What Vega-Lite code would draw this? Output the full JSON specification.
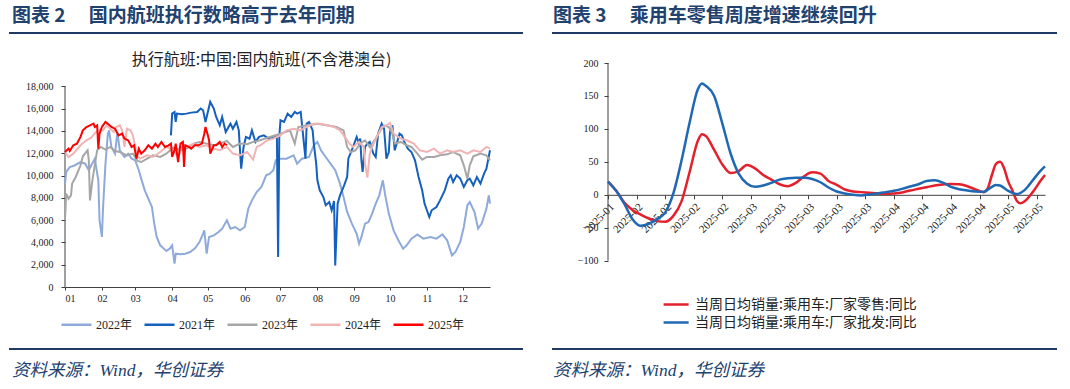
{
"$schema": "https://vega.github.io/schema/vega-lite/v6.json",
"padding": {"left": 9, "top": 0, "right": 0, "bottom": 0},
"background": "white",
"config": {"view": {"stroke": null}, "font": "Liberation Serif, Noto Sans CJK SC"},
"resolve": {"scale": {"color": "independent", "x": "independent", "y": "independent"}, "legend": {"color": "independent"}, "axis": {"x": "independent", "y": "independent"}},
"datasets": {
"flights": [
{"year":"2022年","day":0,"flights":9270},{"year":"2022年","day":1,"flights":10300},{"year":"2022年","day":4,"flights":10760},{"year":"2022年","day":8,"flights":10900},{"year":"2022年","day":13,"flights":11200},{"year":"2022年","day":17,"flights":11060},{"year":"2022年","day":20,"flights":10470},{"year":"2022年","day":22,"flights":10900},{"year":"2022年","day":25,"flights":11500},{"year":"2022年","day":28,"flights":9570},{"year":"2022年","day":29,"flights":5980},{"year":"2022年","day":31,"flights":4490},{"year":"2022年","day":32,"flights":7180},{"year":"2022年","day":34,"flights":11060},{"year":"2022年","day":36,"flights":13750},{"year":"2022年","day":37,"flights":14050},{"year":"2022年","day":39,"flights":12560},{"year":"2022年","day":42,"flights":11960},{"year":"2022年","day":44,"flights":13900},{"year":"2022年","day":46,"flights":12260},{"year":"2022年","day":50,"flights":11660},{"year":"2022年","day":53,"flights":11960},{"year":"2022年","day":56,"flights":11510},{"year":"2022年","day":59,"flights":11360},{"year":"2022年","day":62,"flights":10470},{"year":"2022年","day":64,"flights":9720},{"year":"2022年","day":67,"flights":8670},{"year":"2022年","day":70,"flights":7920},{"year":"2022年","day":73,"flights":7180},{"year":"2022年","day":75,"flights":5680},{"year":"2022年","day":77,"flights":4490},{"year":"2022年","day":80,"flights":3740},{"year":"2022年","day":83,"flights":3440},{"year":"2022年","day":85,"flights":3230},{"year":"2022年","day":88,"flights":3440},{"year":"2022年","day":90,"flights":3740},{"year":"2022年","day":92,"flights":2090},{"year":"2022年","day":93,"flights":2990},{"year":"2022年","day":97,"flights":2930},{"year":"2022年","day":101,"flights":2990},{"year":"2022年","day":105,"flights":3140},{"year":"2022年","day":109,"flights":3440},{"year":"2022年","day":113,"flights":4040},{"year":"2022年","day":116,"flights":4780},{"year":"2022年","day":117,"flights":5080},{"year":"2022年","day":119,"flights":2990},{"year":"2022年","day":121,"flights":4490},{"year":"2022年","day":125,"flights":4630},{"year":"2022年","day":129,"flights":4930},{"year":"2022年","day":132,"flights":5230},{"year":"2022年","day":136,"flights":5980},{"year":"2022年","day":139,"flights":5230},{"year":"2022年","day":143,"flights":5380},{"year":"2022年","day":147,"flights":5080},{"year":"2022年","day":151,"flights":5380},{"year":"2022年","day":154,"flights":7030},{"year":"2022年","day":157,"flights":7770},{"year":"2022年","day":161,"flights":8520},{"year":"2022年","day":165,"flights":8970},{"year":"2022年","day":169,"flights":10020},{"year":"2022年","day":172,"flights":10170},{"year":"2022年","day":175,"flights":10470},{"year":"2022年","day":177,"flights":11360},{"year":"2022年","day":181,"flights":11510},{"year":"2022年","day":186,"flights":11510},{"year":"2022年","day":192,"flights":11810},{"year":"2022年","day":195,"flights":11060},{"year":"2022年","day":199,"flights":11510},{"year":"2022年","day":205,"flights":11660},{"year":"2022年","day":209,"flights":12710},{"year":"2022年","day":212,"flights":13010},{"year":"2022年","day":215,"flights":12260},{"year":"2022年","day":219,"flights":11660},{"year":"2022年","day":223,"flights":11060},{"year":"2022年","day":227,"flights":10470},{"year":"2022年","day":231,"flights":9270},{"year":"2022年","day":234,"flights":8070},{"year":"2022年","day":237,"flights":6730},{"year":"2022年","day":241,"flights":5680},{"year":"2022年","day":245,"flights":4780},{"year":"2022年","day":247,"flights":3890},{"year":"2022年","day":249,"flights":4490},{"year":"2022年","day":252,"flights":5680},{"year":"2022年","day":255,"flights":5830},{"year":"2022年","day":258,"flights":6580},{"year":"2022年","day":261,"flights":7480},{"year":"2022年","day":264,"flights":8220},{"year":"2022年","day":267,"flights":9570},{"year":"2022年","day":269,"flights":8220},{"year":"2022年","day":272,"flights":6580},{"year":"2022年","day":276,"flights":5080},{"year":"2022年","day":280,"flights":4190},{"year":"2022年","day":284,"flights":3440},{"year":"2022年","day":287,"flights":3740},{"year":"2022年","day":291,"flights":4340},{"year":"2022年","day":296,"flights":4720},{"year":"2022年","day":301,"flights":4340},{"year":"2022年","day":307,"flights":4490},{"year":"2022年","day":312,"flights":4340},{"year":"2022年","day":317,"flights":4720},{"year":"2022年","day":321,"flights":4190},{"year":"2022年","day":325,"flights":2840},{"year":"2022年","day":328,"flights":3140},{"year":"2022年","day":332,"flights":4040},{"year":"2022年","day":335,"flights":5380},{"year":"2022年","day":338,"flights":7330},{"year":"2022年","day":340,"flights":7620},{"year":"2022年","day":344,"flights":6730},{"year":"2022年","day":347,"flights":5230},{"year":"2022年","day":350,"flights":5680},{"year":"2022年","day":354,"flights":7030},{"year":"2022年","day":356,"flights":8220},{"year":"2022年","day":357,"flights":7480},
{"year":"2021年","day":89,"flights":13600},{"year":"2021年","day":90,"flights":15550},{"year":"2021年","day":92,"flights":15700},{"year":"2021年","day":93,"flights":14800},{"year":"2021年","day":94,"flights":15550},{"year":"2021年","day":98,"flights":15490},{"year":"2021年","day":102,"flights":15550},{"year":"2021年","day":106,"flights":15640},{"year":"2021年","day":111,"flights":15700},{"year":"2021年","day":114,"flights":16000},{"year":"2021年","day":116,"flights":15850},{"year":"2021年","day":118,"flights":14800},{"year":"2021年","day":119,"flights":15250},{"year":"2021年","day":122,"flights":16600},{"year":"2021年","day":125,"flights":16000},{"year":"2021年","day":127,"flights":15250},{"year":"2021年","day":130,"flights":14500},{"year":"2021年","day":132,"flights":15250},{"year":"2021年","day":135,"flights":13900},{"year":"2021年","day":139,"flights":14650},{"year":"2021年","day":141,"flights":14200},{"year":"2021年","day":144,"flights":14800},{"year":"2021年","day":146,"flights":14050},{"year":"2021年","day":147,"flights":12260},{"year":"2021年","day":148,"flights":10610},{"year":"2021年","day":150,"flights":12560},{"year":"2021年","day":152,"flights":13460},{"year":"2021年","day":155,"flights":13300},{"year":"2021年","day":157,"flights":14050},{"year":"2021年","day":160,"flights":13010},{"year":"2021年","day":163,"flights":13460},{"year":"2021年","day":167,"flights":13600},{"year":"2021年","day":171,"flights":13310},{"year":"2021年","day":175,"flights":13460},{"year":"2021年","day":178,"flights":13600},{"year":"2021年","day":179,"flights":2690},{"year":"2021年","day":180,"flights":13460},{"year":"2021年","day":181,"flights":14950},{"year":"2021年","day":184,"flights":14800},{"year":"2021年","day":187,"flights":15550},{"year":"2021年","day":190,"flights":15250},{"year":"2021年","day":193,"flights":15700},{"year":"2021年","day":195,"flights":15550},{"year":"2021年","day":198,"flights":15700},{"year":"2021年","day":199,"flights":14650},{"year":"2021年","day":201,"flights":12560},{"year":"2021年","day":202,"flights":11510},{"year":"2021年","day":203,"flights":14650},{"year":"2021年","day":205,"flights":14800},{"year":"2021年","day":208,"flights":14050},{"year":"2021年","day":209,"flights":12860},{"year":"2021年","day":211,"flights":11060},{"year":"2021年","day":212,"flights":9570},{"year":"2021年","day":214,"flights":8670},{"year":"2021年","day":217,"flights":8070},{"year":"2021年","day":219,"flights":7330},{"year":"2021年","day":222,"flights":7620},{"year":"2021年","day":224,"flights":6880},{"year":"2021年","day":226,"flights":7710},{"year":"2021年","day":227,"flights":1940},{"year":"2021年","day":229,"flights":7480},{"year":"2021年","day":231,"flights":8220},{"year":"2021年","day":234,"flights":8970},{"year":"2021年","day":237,"flights":9870},{"year":"2021年","day":238,"flights":11510},{"year":"2021年","day":242,"flights":12560},{"year":"2021年","day":245,"flights":13460},{"year":"2021年","day":247,"flights":12860},{"year":"2021年","day":248,"flights":13310},{"year":"2021年","day":249,"flights":11360},{"year":"2021年","day":250,"flights":10320},{"year":"2021年","day":252,"flights":12560},{"year":"2021年","day":254,"flights":12860},{"year":"2021年","day":256,"flights":13010},{"year":"2021年","day":259,"flights":11960},{"year":"2021年","day":261,"flights":11660},{"year":"2021年","day":263,"flights":13750},{"year":"2021年","day":266,"flights":14650},{"year":"2021年","day":268,"flights":14200},{"year":"2021年","day":270,"flights":11510},{"year":"2021年","day":272,"flights":12110},{"year":"2021年","day":273,"flights":13900},{"year":"2021年","day":275,"flights":14500},{"year":"2021年","day":277,"flights":12260},{"year":"2021年","day":279,"flights":13010},{"year":"2021年","day":281,"flights":13750},{"year":"2021年","day":283,"flights":13600},{"year":"2021年","day":285,"flights":13010},{"year":"2021年","day":288,"flights":12410},{"year":"2021年","day":291,"flights":12110},{"year":"2021年","day":294,"flights":11360},{"year":"2021年","day":297,"flights":9870},{"year":"2021年","day":300,"flights":8670},{"year":"2021年","day":302,"flights":7480},{"year":"2021年","day":304,"flights":6880},{"year":"2021年","day":306,"flights":6280},{"year":"2021年","day":308,"flights":6880},{"year":"2021年","day":312,"flights":7180},{"year":"2021年","day":315,"flights":7770},{"year":"2021年","day":319,"flights":8670},{"year":"2021年","day":322,"flights":9720},{"year":"2021年","day":324,"flights":10020},{"year":"2021年","day":326,"flights":9420},{"year":"2021年","day":329,"flights":10020},{"year":"2021年","day":332,"flights":9720},{"year":"2021年","day":335,"flights":8970},{"year":"2021年","day":338,"flights":9570},{"year":"2021年","day":340,"flights":9720},{"year":"2021年","day":343,"flights":9120},{"year":"2021年","day":346,"flights":9870},{"year":"2021年","day":349,"flights":9270},{"year":"2021年","day":352,"flights":10170},{"year":"2021年","day":354,"flights":10610},{"year":"2021年","day":357,"flights":12260},
{"year":"2023年","day":0,"flights":5980},{"year":"2023年","day":1,"flights":8370},{"year":"2023年","day":3,"flights":7920},{"year":"2023年","day":5,"flights":8220},{"year":"2023年","day":6,"flights":9270},{"year":"2023年","day":9,"flights":9870},{"year":"2023年","day":13,"flights":10910},{"year":"2023年","day":15,"flights":11720},{"year":"2023年","day":19,"flights":12260},{"year":"2023年","day":20,"flights":11360},{"year":"2023年","day":21,"flights":7770},{"year":"2023年","day":23,"flights":9570},{"year":"2023年","day":25,"flights":10910},{"year":"2023年","day":27,"flights":12260},{"year":"2023年","day":30,"flights":12560},{"year":"2023年","day":34,"flights":12320},{"year":"2023年","day":38,"flights":12560},{"year":"2023年","day":42,"flights":12200},{"year":"2023年","day":46,"flights":12110},{"year":"2023年","day":52,"flights":11810},{"year":"2023年","day":57,"flights":11960},{"year":"2023年","day":61,"flights":11300},{"year":"2023年","day":64,"flights":11210},{"year":"2023年","day":69,"flights":11510},{"year":"2023年","day":74,"flights":11810},{"year":"2023年","day":80,"flights":11660},{"year":"2023年","day":85,"flights":11960},{"year":"2023年","day":91,"flights":12500},{"year":"2023年","day":97,"flights":12260},{"year":"2023年","day":102,"flights":12410},{"year":"2023年","day":108,"flights":12860},{"year":"2023年","day":113,"flights":13010},{"year":"2023年","day":119,"flights":12860},{"year":"2023年","day":125,"flights":12710},{"year":"2023年","day":130,"flights":12860},{"year":"2023年","day":136,"flights":13100},{"year":"2023年","day":141,"flights":12560},{"year":"2023年","day":147,"flights":12860},{"year":"2023年","day":153,"flights":12800},{"year":"2023年","day":158,"flights":13010},{"year":"2023年","day":164,"flights":13160},{"year":"2023年","day":172,"flights":13460},{"year":"2023年","day":181,"flights":13750},{"year":"2023年","day":189,"flights":14050},{"year":"2023年","day":193,"flights":12860},{"year":"2023年","day":196,"flights":14350},{"year":"2023年","day":203,"flights":14500},{"year":"2023年","day":212,"flights":14650},{"year":"2023年","day":220,"flights":14500},{"year":"2023年","day":228,"flights":14350},{"year":"2023年","day":234,"flights":14050},{"year":"2023年","day":237,"flights":12560},{"year":"2023年","day":240,"flights":12110},{"year":"2023年","day":244,"flights":12260},{"year":"2023年","day":248,"flights":12860},{"year":"2023年","day":252,"flights":13160},{"year":"2023年","day":256,"flights":12560},{"year":"2023年","day":261,"flights":13310},{"year":"2023年","day":265,"flights":14050},{"year":"2023年","day":268,"flights":14500},{"year":"2023年","day":272,"flights":14350},{"year":"2023年","day":275,"flights":13750},{"year":"2023年","day":277,"flights":12860},{"year":"2023年","day":282,"flights":13010},{"year":"2023年","day":287,"flights":12710},{"year":"2023年","day":291,"flights":12560},{"year":"2023年","day":296,"flights":11960},{"year":"2023年","day":300,"flights":11420},{"year":"2023年","day":304,"flights":11660},{"year":"2023年","day":310,"flights":11660},{"year":"2023年","day":315,"flights":11810},{"year":"2023年","day":321,"flights":11900},{"year":"2023年","day":326,"flights":12110},{"year":"2023年","day":332,"flights":11810},{"year":"2023年","day":335,"flights":10910},{"year":"2023年","day":338,"flights":9720},{"year":"2023年","day":340,"flights":10910},{"year":"2023年","day":343,"flights":11720},{"year":"2023年","day":349,"flights":11960},{"year":"2023年","day":354,"flights":11810},{"year":"2023年","day":357,"flights":11360},
{"year":"2024年","day":0,"flights":12110},{"year":"2024年","day":3,"flights":11660},{"year":"2024年","day":7,"flights":11960},{"year":"2024年","day":13,"flights":12710},{"year":"2024年","day":18,"flights":13160},{"year":"2024年","day":22,"flights":13400},{"year":"2024年","day":26,"flights":13900},{"year":"2024年","day":29,"flights":14050},{"year":"2024年","day":32,"flights":14050},{"year":"2024年","day":35,"flights":14500},{"year":"2024年","day":38,"flights":14200},{"year":"2024年","day":41,"flights":13900},{"year":"2024年","day":43,"flights":14350},{"year":"2024年","day":46,"flights":14500},{"year":"2024年","day":48,"flights":14050},{"year":"2024年","day":50,"flights":12560},{"year":"2024年","day":52,"flights":14200},{"year":"2024年","day":55,"flights":14050},{"year":"2024年","day":57,"flights":13600},{"year":"2024年","day":59,"flights":12560},{"year":"2024年","day":60,"flights":11810},{"year":"2024年","day":63,"flights":11510},{"year":"2024年","day":69,"flights":11810},{"year":"2024年","day":74,"flights":11660},{"year":"2024年","day":80,"flights":12110},{"year":"2024年","day":85,"flights":12560},{"year":"2024年","day":91,"flights":12260},{"year":"2024年","day":95,"flights":11600},{"year":"2024年","day":98,"flights":12560},{"year":"2024年","day":102,"flights":12560},{"year":"2024年","day":108,"flights":12860},{"year":"2024年","day":113,"flights":12560},{"year":"2024年","day":119,"flights":12710},{"year":"2024年","day":125,"flights":12410},{"year":"2024年","day":130,"flights":12260},{"year":"2024年","day":136,"flights":12560},{"year":"2024年","day":141,"flights":11960},{"year":"2024年","day":147,"flights":11810},{"year":"2024年","day":153,"flights":12110},{"year":"2024年","day":158,"flights":11420},{"year":"2024年","day":161,"flights":12560},{"year":"2024年","day":164,"flights":12710},{"year":"2024年","day":170,"flights":13160},{"year":"2024年","day":175,"flights":13310},{"year":"2024年","day":181,"flights":13600},{"year":"2024年","day":186,"flights":14050},{"year":"2024年","day":192,"flights":14200},{"year":"2024年","day":198,"flights":14050},{"year":"2024年","day":203,"flights":14350},{"year":"2024年","day":209,"flights":14650},{"year":"2024年","day":214,"flights":14650},{"year":"2024年","day":220,"flights":14500},{"year":"2024年","day":226,"flights":14350},{"year":"2024年","day":231,"flights":14050},{"year":"2024年","day":235,"flights":13460},{"year":"2024年","day":239,"flights":12860},{"year":"2024年","day":242,"flights":12560},{"year":"2024年","day":247,"flights":13010},{"year":"2024年","day":251,"flights":12560},{"year":"2024年","day":252,"flights":11060},{"year":"2024年","day":254,"flights":9810},{"year":"2024年","day":256,"flights":11960},{"year":"2024年","day":258,"flights":12560},{"year":"2024年","day":262,"flights":13460},{"year":"2024年","day":266,"flights":14350},{"year":"2024年","day":270,"flights":14500},{"year":"2024年","day":273,"flights":14710},{"year":"2024年","day":276,"flights":13750},{"year":"2024年","day":282,"flights":13310},{"year":"2024年","day":287,"flights":13160},{"year":"2024年","day":293,"flights":12860},{"year":"2024年","day":298,"flights":12260},{"year":"2024年","day":304,"flights":12110},{"year":"2024年","day":310,"flights":12410},{"year":"2024年","day":315,"flights":11960},{"year":"2024年","day":321,"flights":12260},{"year":"2024年","day":326,"flights":12110},{"year":"2024年","day":332,"flights":12260},{"year":"2024年","day":338,"flights":11960},{"year":"2024年","day":343,"flights":12260},{"year":"2024年","day":349,"flights":12110},{"year":"2024年","day":354,"flights":12560},{"year":"2024年","day":357,"flights":12410},
{"year":"2025年","day":0,"flights":12110},{"year":"2025年","day":3,"flights":12410},{"year":"2025年","day":4,"flights":12200},{"year":"2025年","day":7,"flights":12710},{"year":"2025年","day":10,"flights":12860},{"year":"2025年","day":13,"flights":13460},{"year":"2025年","day":15,"flights":14050},{"year":"2025年","day":18,"flights":14350},{"year":"2025年","day":21,"flights":14500},{"year":"2025年","day":24,"flights":14650},{"year":"2025年","day":25,"flights":14350},{"year":"2025年","day":27,"flights":14500},{"year":"2025年","day":28,"flights":12410},{"year":"2025年","day":29,"flights":13750},{"year":"2025年","day":31,"flights":14350},{"year":"2025年","day":34,"flights":14800},{"year":"2025年","day":36,"flights":14650},{"year":"2025年","day":39,"flights":14350},{"year":"2025年","day":42,"flights":14200},{"year":"2025年","day":45,"flights":13600},{"year":"2025年","day":48,"flights":13750},{"year":"2025年","day":50,"flights":13310},{"year":"2025年","day":53,"flights":13160},{"year":"2025年","day":56,"flights":12560},{"year":"2025年","day":58,"flights":12710},{"year":"2025年","day":60,"flights":11510},{"year":"2025年","day":62,"flights":12410},{"year":"2025年","day":64,"flights":11960},{"year":"2025年","day":67,"flights":12260},{"year":"2025年","day":70,"flights":12710},{"year":"2025年","day":73,"flights":12410},{"year":"2025年","day":76,"flights":12860},{"year":"2025年","day":78,"flights":12560},{"year":"2025年","day":81,"flights":13010},{"year":"2025年","day":84,"flights":12560},{"year":"2025年","day":87,"flights":12710},{"year":"2025年","day":89,"flights":12860},{"year":"2025年","day":90,"flights":11660},{"year":"2025年","day":92,"flights":12260},{"year":"2025年","day":93,"flights":12860},{"year":"2025年","day":95,"flights":11210},{"year":"2025年","day":97,"flights":12860},{"year":"2025年","day":99,"flights":13010},{"year":"2025年","day":100,"flights":10760},{"year":"2025年","day":101,"flights":12710},{"year":"2025年","day":104,"flights":12560},{"year":"2025年","day":106,"flights":12410},{"year":"2025年","day":109,"flights":12710},{"year":"2025年","day":112,"flights":12710},{"year":"2025年","day":115,"flights":12860},{"year":"2025年","day":117,"flights":13750},{"year":"2025年","day":118,"flights":14350},{"year":"2025年","day":120,"flights":13600},{"year":"2025年","day":121,"flights":13160},{"year":"2025年","day":122,"flights":11960},{"year":"2025年","day":125,"flights":12710},{"year":"2025年","day":127,"flights":12710},{"year":"2025年","day":130,"flights":13010},{"year":"2025年","day":132,"flights":12560},{"year":"2025年","day":134,"flights":12860},{"year":"2025年","day":136,"flights":12710}
],
"cars": [
{"series":"当周日均销量:乘用车:厂家零售:同比","date":"2025-01-26","yoy":20},{"series":"当周日均销量:乘用车:厂家零售:同比","date":"2025-01-28","yoy":6},{"series":"当周日均销量:乘用车:厂家零售:同比","date":"2025-01-30","yoy":-12},{"series":"当周日均销量:乘用车:厂家零售:同比","date":"2025-02-01","yoy":-23},{"series":"当周日均销量:乘用车:厂家零售:同比","date":"2025-02-03","yoy":-30},{"series":"当周日均销量:乘用车:厂家零售:同比","date":"2025-02-05","yoy":-36},{"series":"当周日均销量:乘用车:厂家零售:同比","date":"2025-02-07","yoy":-40},{"series":"当周日均销量:乘用车:厂家零售:同比","date":"2025-02-09","yoy":-41},{"series":"当周日均销量:乘用车:厂家零售:同比","date":"2025-02-11","yoy":-32},{"series":"当周日均销量:乘用车:厂家零售:同比","date":"2025-02-13","yoy":-10},{"series":"当周日均销量:乘用车:厂家零售:同比","date":"2025-02-15","yoy":35},{"series":"当周日均销量:乘用车:厂家零售:同比","date":"2025-02-17","yoy":82},{"series":"当周日均销量:乘用车:厂家零售:同比","date":"2025-02-18","yoy":92},{"series":"当周日均销量:乘用车:厂家零售:同比","date":"2025-02-19","yoy":89},{"series":"当周日均销量:乘用车:厂家零售:同比","date":"2025-02-21","yoy":68},{"series":"当周日均销量:乘用车:厂家零售:同比","date":"2025-02-23","yoy":46},{"series":"当周日均销量:乘用车:厂家零售:同比","date":"2025-02-25","yoy":33},{"series":"当周日均销量:乘用车:厂家零售:同比","date":"2025-02-27","yoy":36},{"series":"当周日均销量:乘用车:厂家零售:同比","date":"2025-03-01","yoy":45},{"series":"当周日均销量:乘用车:厂家零售:同比","date":"2025-03-03","yoy":40},{"series":"当周日均销量:乘用车:厂家零售:同比","date":"2025-03-05","yoy":30},{"series":"当周日均销量:乘用车:厂家零售:同比","date":"2025-03-07","yoy":23},{"series":"当周日均销量:乘用车:厂家零售:同比","date":"2025-03-09","yoy":16},{"series":"当周日均销量:乘用车:厂家零售:同比","date":"2025-03-11","yoy":13},{"series":"当周日均销量:乘用车:厂家零售:同比","date":"2025-03-13","yoy":18},{"series":"当周日均销量:乘用车:厂家零售:同比","date":"2025-03-15","yoy":28},{"series":"当周日均销量:乘用车:厂家零售:同比","date":"2025-03-17","yoy":34},{"series":"当周日均销量:乘用车:厂家零售:同比","date":"2025-03-19","yoy":32},{"series":"当周日均销量:乘用车:厂家零售:同比","date":"2025-03-21","yoy":21},{"series":"当周日均销量:乘用车:厂家零售:同比","date":"2025-03-23","yoy":15},{"series":"当周日均销量:乘用车:厂家零售:同比","date":"2025-03-25","yoy":8},{"series":"当周日均销量:乘用车:厂家零售:同比","date":"2025-03-27","yoy":5},{"series":"当周日均销量:乘用车:厂家零售:同比","date":"2025-03-29","yoy":4},{"series":"当周日均销量:乘用车:厂家零售:同比","date":"2025-03-31","yoy":3},{"series":"当周日均销量:乘用车:厂家零售:同比","date":"2025-04-02","yoy":2},{"series":"当周日均销量:乘用车:厂家零售:同比","date":"2025-04-04","yoy":1.5},{"series":"当周日均销量:乘用车:厂家零售:同比","date":"2025-04-06","yoy":2},{"series":"当周日均销量:乘用车:厂家零售:同比","date":"2025-04-08","yoy":3.5},{"series":"当周日均销量:乘用车:厂家零售:同比","date":"2025-04-10","yoy":6.5},{"series":"当周日均销量:乘用车:厂家零售:同比","date":"2025-04-12","yoy":9},{"series":"当周日均销量:乘用车:厂家零售:同比","date":"2025-04-14","yoy":11.5},{"series":"当周日均销量:乘用车:厂家零售:同比","date":"2025-04-16","yoy":14},{"series":"当周日均销量:乘用车:厂家零售:同比","date":"2025-04-18","yoy":15.5},{"series":"当周日均销量:乘用车:厂家零售:同比","date":"2025-04-20","yoy":16.5},{"series":"当周日均销量:乘用车:厂家零售:同比","date":"2025-04-22","yoy":16},{"series":"当周日均销量:乘用车:厂家零售:同比","date":"2025-04-24","yoy":13},{"series":"当周日均销量:乘用车:厂家零售:同比","date":"2025-04-26","yoy":8},{"series":"当周日均销量:乘用车:厂家零售:同比","date":"2025-04-28","yoy":4},{"series":"当周日均销量:乘用车:厂家零售:同比","date":"2025-04-29","yoy":10},{"series":"当周日均销量:乘用车:厂家零售:同比","date":"2025-04-30","yoy":30},{"series":"当周日均销量:乘用车:厂家零售:同比","date":"2025-05-01","yoy":47},{"series":"当周日均销量:乘用车:厂家零售:同比","date":"2025-05-02","yoy":50},{"series":"当周日均销量:乘用车:厂家零售:同比","date":"2025-05-03","yoy":40},{"series":"当周日均销量:乘用车:厂家零售:同比","date":"2025-05-04","yoy":20},{"series":"当周日均销量:乘用车:厂家零售:同比","date":"2025-05-05","yoy":7},{"series":"当周日均销量:乘用车:厂家零售:同比","date":"2025-05-06","yoy":-8},{"series":"当周日均销量:乘用车:厂家零售:同比","date":"2025-05-07","yoy":-13},{"series":"当周日均销量:乘用车:厂家零售:同比","date":"2025-05-08","yoy":-10},{"series":"当周日均销量:乘用车:厂家零售:同比","date":"2025-05-10","yoy":4},{"series":"当周日均销量:乘用车:厂家零售:同比","date":"2025-05-12","yoy":22},{"series":"当周日均销量:乘用车:厂家零售:同比","date":"2025-05-13","yoy":30},
{"series":"当周日均销量:乘用车:厂家批发:同比","date":"2025-01-26","yoy":20},{"series":"当周日均销量:乘用车:厂家批发:同比","date":"2025-01-28","yoy":6},{"series":"当周日均销量:乘用车:厂家批发:同比","date":"2025-01-30","yoy":-14},{"series":"当周日均销量:乘用车:厂家批发:同比","date":"2025-02-01","yoy":-37},{"series":"当周日均销量:乘用车:厂家批发:同比","date":"2025-02-03","yoy":-47},{"series":"当周日均销量:乘用车:厂家批发:同比","date":"2025-02-05","yoy":-44},{"series":"当周日均销量:乘用车:厂家批发:同比","date":"2025-02-07","yoy":-37},{"series":"当周日均销量:乘用车:厂家批发:同比","date":"2025-02-09","yoy":-27},{"series":"当周日均销量:乘用车:厂家批发:同比","date":"2025-02-11","yoy":2},{"series":"当周日均销量:乘用车:厂家批发:同比","date":"2025-02-13","yoy":52},{"series":"当周日均销量:乘用车:厂家批发:同比","date":"2025-02-15","yoy":110},{"series":"当周日均销量:乘用车:厂家批发:同比","date":"2025-02-17","yoy":160},{"series":"当周日均销量:乘用车:厂家批发:同比","date":"2025-02-18","yoy":169},{"series":"当周日均销量:乘用车:厂家批发:同比","date":"2025-02-19","yoy":165},{"series":"当周日均销量:乘用车:厂家批发:同比","date":"2025-02-21","yoy":150},{"series":"当周日均销量:乘用车:厂家批发:同比","date":"2025-02-23","yoy":108},{"series":"当周日均销量:乘用车:厂家批发:同比","date":"2025-02-25","yoy":63},{"series":"当周日均销量:乘用车:厂家批发:同比","date":"2025-02-27","yoy":32},{"series":"当周日均销量:乘用车:厂家批发:同比","date":"2025-03-01","yoy":17},{"series":"当周日均销量:乘用车:厂家批发:同比","date":"2025-03-03","yoy":12},{"series":"当周日均销量:乘用车:厂家批发:同比","date":"2025-03-05","yoy":14},{"series":"当周日均销量:乘用车:厂家批发:同比","date":"2025-03-07","yoy":18},{"series":"当周日均销量:乘用车:厂家批发:同比","date":"2025-03-09","yoy":23},{"series":"当周日均销量:乘用车:厂家批发:同比","date":"2025-03-11","yoy":25},{"series":"当周日均销量:乘用车:厂家批发:同比","date":"2025-03-13","yoy":26},{"series":"当周日均销量:乘用车:厂家批发:同比","date":"2025-03-15","yoy":26},{"series":"当周日均销量:乘用车:厂家批发:同比","date":"2025-03-17","yoy":24},{"series":"当周日均销量:乘用车:厂家批发:同比","date":"2025-03-19","yoy":19},{"series":"当周日均销量:乘用车:厂家批发:同比","date":"2025-03-21","yoy":11},{"series":"当周日均销量:乘用车:厂家批发:同比","date":"2025-03-23","yoy":5},{"series":"当周日均销量:乘用车:厂家批发:同比","date":"2025-03-25","yoy":2},{"series":"当周日均销量:乘用车:厂家批发:同比","date":"2025-03-27","yoy":0},{"series":"当周日均销量:乘用车:厂家批发:同比","date":"2025-03-29","yoy":-1},{"series":"当周日均销量:乘用车:厂家批发:同比","date":"2025-03-31","yoy":0.5},{"series":"当周日均销量:乘用车:厂家批发:同比","date":"2025-04-02","yoy":2},{"series":"当周日均销量:乘用车:厂家批发:同比","date":"2025-04-04","yoy":4},{"series":"当周日均销量:乘用车:厂家批发:同比","date":"2025-04-06","yoy":6},{"series":"当周日均销量:乘用车:厂家批发:同比","date":"2025-04-08","yoy":9},{"series":"当周日均销量:乘用车:厂家批发:同比","date":"2025-04-10","yoy":12.5},{"series":"当周日均销量:乘用车:厂家批发:同比","date":"2025-04-12","yoy":16},{"series":"当周日均销量:乘用车:厂家批发:同比","date":"2025-04-14","yoy":21},{"series":"当周日均销量:乘用车:厂家批发:同比","date":"2025-04-16","yoy":22},{"series":"当周日均销量:乘用车:厂家批发:同比","date":"2025-04-18","yoy":18.5},{"series":"当周日均销量:乘用车:厂家批发:同比","date":"2025-04-20","yoy":12},{"series":"当周日均销量:乘用车:厂家批发:同比","date":"2025-04-22","yoy":8.5},{"series":"当周日均销量:乘用车:厂家批发:同比","date":"2025-04-24","yoy":6.5},{"series":"当周日均销量:乘用车:厂家批发:同比","date":"2025-04-26","yoy":5},{"series":"当周日均销量:乘用车:厂家批发:同比","date":"2025-04-28","yoy":4.5},{"series":"当周日均销量:乘用车:厂家批发:同比","date":"2025-04-30","yoy":12},{"series":"当周日均销量:乘用车:厂家批发:同比","date":"2025-05-01","yoy":15},{"series":"当周日均销量:乘用车:厂家批发:同比","date":"2025-05-02","yoy":14},{"series":"当周日均销量:乘用车:厂家批发:同比","date":"2025-05-04","yoy":6},{"series":"当周日均销量:乘用车:厂家批发:同比","date":"2025-05-06","yoy":1},{"series":"当周日均销量:乘用车:厂家批发:同比","date":"2025-05-08","yoy":7},{"series":"当周日均销量:乘用车:厂家批发:同比","date":"2025-05-10","yoy":22},{"series":"当周日均销量:乘用车:厂家批发:同比","date":"2025-05-12","yoy":37},{"series":"当周日均销量:乘用车:厂家批发:同比","date":"2025-05-13","yoy":43}
]
},
"columns": 6,
"spacing": 0,
"bounds": "flush",
"concat": [
{"width": 1, "height": 32, "data": {"values": []}, "mark": "text"},
{"width": 1, "height": 1, "data": {"values": []}, "mark": "text"},
{"width": 1, "height": 1, "data": {"values": []}, "mark": "text"},
{"width": 1, "height": 1, "data": {"values": []}, "mark": "text"},
{"width": 1, "height": 1, "data": {"values": []}, "mark": "text"},
{"width": 1, "height": 1, "data": {"values": []}, "mark": "text"},

{"width": 56, "height": 2, "data": {"values": []}, "mark": "text", "view": {"fill": "#1F3A64", "stroke": null},
 "title": {"text": "图表 2\u2003 国内航班执行数略高于去年同期", "orient": "top", "anchor": "start", "frame": "group", "dx": 3, "offset": -8.6, "baseline": "alphabetic", "font": "Noto Sans CJK SC", "fontSize": 19, "fontWeight": "bold", "color": "#21416F"}},
{"width": 425, "height": 2, "data": {"values": []}, "mark": "text", "view": {"fill": "#1F3A64", "stroke": null}},
{"width": 33, "height": 2, "data": {"values": []}, "mark": "text", "view": {"fill": "#1F3A64", "stroke": null}},
{"width": 56, "height": 2, "data": {"values": []}, "mark": "text", "view": {"fill": "#1F3A64", "stroke": null},
 "title": {"text": "图表 3\u2003 乘用车零售周度增速继续回升", "orient": "top", "anchor": "start", "frame": "group", "dx": 1, "offset": -8.6, "baseline": "alphabetic", "font": "Noto Sans CJK SC", "fontSize": 19, "fontWeight": "bold", "color": "#21416F"}},
{"width": 437, "height": 2, "data": {"values": []}, "mark": "text", "view": {"fill": "#1F3A64", "stroke": null}},
{"width": 12, "height": 2, "data": {"values": []}, "mark": "text", "view": {"fill": "#1F3A64", "stroke": null}},

{"width": 1, "height": 29, "data": {"values": []}, "mark": "text"},
{"width": 1, "height": 1, "data": {"values": []}, "mark": "text"},
{"width": 62, "height": 1, "data": {"values": []}, "mark": "text"},
{"width": 1, "height": 1, "data": {"values": []}, "mark": "text"},
{"width": 1, "height": 1, "data": {"values": []}, "mark": "text"},
{"width": 1, "height": 1, "data": {"values": []}, "mark": "text"},

{"width": 1, "height": 1, "data": {"values": []}, "mark": "text"},
{"width": 425, "height": 224,
 "title": {"text": "执行航班:中国:国内航班(不含港澳台)", "anchor": "middle", "frame": "group", "dx": -16, "offset": -18, "baseline": "alphabetic", "font": "Noto Sans CJK SC", "fontSize": 16, "fontWeight": "normal", "color": "#222222"},
 "layer": [
  {"data": {"values": [{}]}, "mark": {"type": "rule", "color": "#404040", "strokeWidth": 1},
   "encoding": {
    "x": {"datum": 0, "type": "quantitative", "scale": {"domain": [0, 357], "nice": false, "zero": false},
      "axis": {"title": null, "grid": false, "values": [0,31,59,90,120,151,181,212,243,273,304,334], "labelExpr": "timeFormat(datetime(2021, 0, 1 + datum.value), '%m')", "labelOverlap": false, "tickSize": 3, "labelPadding": 3, "labelFont": "Liberation Serif", "labelFontSize": 10, "labelColor": "#222222", "domainColor": "#404040", "tickColor": "#404040"}},
    "y": {"datum": 0, "type": "quantitative", "scale": {"domain": [0, 20090], "nice": false},
      "axis": {"title": null, "grid": false, "domain": false, "values": [0,2000,4000,6000,8000,10000,12000,14000,16000,18000], "labelExpr": "format(datum.value, ',')", "labelOverlap": false, "tickSize": 4, "labelPadding": 8, "labelFont": "Liberation Serif", "labelFontSize": 10, "labelColor": "#222222", "tickColor": "#404040"}},
    "y2": {"datum": 18000}}},
  {"data": {"name": "flights"}, "mark": {"type": "line", "strokeWidth": 2},
   "encoding": {
    "x": {"field": "day", "type": "quantitative", "scale": {"domain": [0, 357], "nice": false, "zero": false},
      "axis": {"title": null, "grid": false, "values": [0,31,59,90,120,151,181,212,243,273,304,334], "labelExpr": "timeFormat(datetime(2021, 0, 1 + datum.value), '%m')", "labelOverlap": false, "tickSize": 3, "labelPadding": 3, "labelFont": "Liberation Serif", "labelFontSize": 10, "labelColor": "#222222", "domainColor": "#404040", "tickColor": "#404040"}},
    "y": {"field": "flights", "type": "quantitative", "scale": {"domain": [0, 20090], "nice": false},
      "axis": {"title": null, "grid": false, "domain": false, "values": [0,2000,4000,6000,8000,10000,12000,14000,16000,18000], "labelExpr": "format(datum.value, ',')", "labelOverlap": false, "tickSize": 4, "labelPadding": 8, "labelFont": "Liberation Serif", "labelFontSize": 10, "labelColor": "#222222", "tickColor": "#404040"}},
    "color": {"field": "year", "type": "nominal",
      "scale": {"domain": ["2022年","2021年","2023年","2024年","2025年"], "range": ["#8EAADB","#1560BD","#A6A6A6","#F0B4B4","#FF0000"]},
      "legend": {"orient": "none", "legendX": -5, "legendY": 245, "direction": "horizontal", "title": null, "symbolType": "stroke", "symbolSize": 900, "symbolStrokeWidth": 2.5, "labelFont": "Liberation Serif, Noto Sans CJK SC", "labelFontSize": 12, "labelColor": "#222222", "labelOffset": 3, "columnPadding": 6, "padding": 0}}
   }}
 ]
},
{"width": 1, "height": 1, "data": {"values": []}, "mark": "text"},
{"width": 1, "height": 1, "data": {"values": []}, "mark": "text"},
{"width": 437, "height": 224,
 "layer": [
  {"data": {"values": [{}]}, "mark": {"type": "rule", "color": "#404040", "strokeWidth": 1},
   "encoding": {
    "x": {"datum": {"year": 2025, "month": 1, "date": 26, "utc": true}, "type": "temporal",
      "scale": {"type": "utc", "domain": [{"year": 2025, "month": 1, "date": 26, "utc": true}, {"year": 2025, "month": 5, "date": 13, "utc": true}], "nice": false},
      "axis": {"title": null, "grid": false, "offset": -92.2, "labelAngle": -45, "labelExpr": "utcFormat(datum.value, '%Y-%m')", "labelOverlap": false,
        "values": [{"year":2025,"month":1,"date":26,"utc":true},{"year":2025,"month":2,"date":2,"utc":true},{"year":2025,"month":2,"date":9,"utc":true},{"year":2025,"month":2,"date":16,"utc":true},{"year":2025,"month":2,"date":23,"utc":true},{"year":2025,"month":3,"date":2,"utc":true},{"year":2025,"month":3,"date":9,"utc":true},{"year":2025,"month":3,"date":16,"utc":true},{"year":2025,"month":3,"date":23,"utc":true},{"year":2025,"month":3,"date":30,"utc":true},{"year":2025,"month":4,"date":6,"utc":true},{"year":2025,"month":4,"date":13,"utc":true},{"year":2025,"month":4,"date":20,"utc":true},{"year":2025,"month":4,"date":27,"utc":true},{"year":2025,"month":5,"date":4,"utc":true},{"year":2025,"month":5,"date":11,"utc":true}],
        "tickSize": 4, "labelPadding": 2, "labelFont": "Liberation Serif", "labelFontSize": 11, "labelColor": "#222222", "domainColor": "#404040", "tickColor": "#404040"}},
    "y": {"datum": -100, "type": "quantitative", "scale": {"domain": [-140, 200], "nice": false},
      "axis": {"title": null, "grid": false, "domain": false, "values": [-100,-50,0,50,100,150,200], "labelOverlap": false, "tickSize": 4, "labelPadding": 6, "labelFont": "Liberation Serif", "labelFontSize": 10, "labelColor": "#222222", "tickColor": "#404040"}},
    "y2": {"datum": 200}}},
  {"data": {"name": "cars"}, "mark": {"type": "line", "strokeWidth": 2.5, "interpolate": "monotone"},
   "encoding": {
    "x": {"field": "date", "type": "temporal",
      "scale": {"type": "utc", "domain": [{"year": 2025, "month": 1, "date": 26, "utc": true}, {"year": 2025, "month": 5, "date": 13, "utc": true}], "nice": false},
      "axis": {"title": null, "grid": false, "offset": -92.2, "labelAngle": -45, "labelExpr": "utcFormat(datum.value, '%Y-%m')", "labelOverlap": false,
        "values": [{"year":2025,"month":1,"date":26,"utc":true},{"year":2025,"month":2,"date":2,"utc":true},{"year":2025,"month":2,"date":9,"utc":true},{"year":2025,"month":2,"date":16,"utc":true},{"year":2025,"month":2,"date":23,"utc":true},{"year":2025,"month":3,"date":2,"utc":true},{"year":2025,"month":3,"date":9,"utc":true},{"year":2025,"month":3,"date":16,"utc":true},{"year":2025,"month":3,"date":23,"utc":true},{"year":2025,"month":3,"date":30,"utc":true},{"year":2025,"month":4,"date":6,"utc":true},{"year":2025,"month":4,"date":13,"utc":true},{"year":2025,"month":4,"date":20,"utc":true},{"year":2025,"month":4,"date":27,"utc":true},{"year":2025,"month":5,"date":4,"utc":true},{"year":2025,"month":5,"date":11,"utc":true}],
        "tickSize": 4, "labelPadding": 2, "labelFont": "Liberation Serif", "labelFontSize": 11, "labelColor": "#222222", "domainColor": "#404040", "tickColor": "#404040"}},
    "y": {"field": "yoy", "type": "quantitative", "scale": {"domain": [-140, 200], "nice": false},
      "axis": {"title": null, "grid": false, "domain": false, "values": [-100,-50,0,50,100,150,200], "labelOverlap": false, "tickSize": 4, "labelPadding": 6, "labelFont": "Liberation Serif", "labelFontSize": 10, "labelColor": "#222222", "tickColor": "#404040"}},
    "color": {"field": "series", "type": "nominal",
      "scale": {"domain": ["当周日均销量:乘用车:厂家零售:同比","当周日均销量:乘用车:厂家批发:同比"], "range": ["#E3202B","#1F69B4"]},
      "legend": {"orient": "none", "legendX": 57.6, "legendY": 231, "direction": "vertical", "title": null, "symbolType": "M-1.4,0H1.4", "symbolSize": 320, "symbolStrokeWidth": 2.5, "labelFont": "Noto Sans CJK SC", "labelFontSize": 14, "labelColor": "#222222", "labelOffset": 8.5, "rowPadding": 0, "padding": 0, "labelLimit": 400}}
   }}
 ]
},
{"width": 1, "height": 1, "data": {"values": []}, "mark": "text"},

{"width": 1, "height": 61, "data": {"values": []}, "mark": "text"},
{"width": 1, "height": 1, "data": {"values": []}, "mark": "text"},
{"width": 1, "height": 1, "data": {"values": []}, "mark": "text"},
{"width": 1, "height": 1, "data": {"values": []}, "mark": "text"},
{"width": 1, "height": 1, "data": {"values": []}, "mark": "text"},
{"width": 1, "height": 1, "data": {"values": []}, "mark": "text"},

{"width": 56, "height": 2, "data": {"values": []}, "mark": "text", "view": {"fill": "#1F3A64", "stroke": null},
 "title": {"text": "资料来源：Wind，华创证券", "orient": "bottom", "anchor": "start", "frame": "group", "dx": 3, "offset": 25.5, "baseline": "alphabetic", "font": "Liberation Serif, Noto Sans CJK SC", "fontSize": 17.5, "fontStyle": "italic", "fontWeight": "normal", "color": "#21416F"}},
{"width": 425, "height": 2, "data": {"values": []}, "mark": "text", "view": {"fill": "#1F3A64", "stroke": null}},
{"width": 33, "height": 2, "data": {"values": []}, "mark": "text", "view": {"fill": "#1F3A64", "stroke": null}},
{"width": 56, "height": 2, "data": {"values": []}, "mark": "text", "view": {"fill": "#1F3A64", "stroke": null},
 "title": {"text": "资料来源：Wind，华创证券", "orient": "bottom", "anchor": "start", "frame": "group", "dx": 1, "offset": 25.5, "baseline": "alphabetic", "font": "Liberation Serif, Noto Sans CJK SC", "fontSize": 17.5, "fontStyle": "italic", "fontWeight": "normal", "color": "#21416F"}},
{"width": 437, "height": 2, "data": {"values": []}, "mark": "text", "view": {"fill": "#1F3A64", "stroke": null}},
{"width": 12, "height": 2, "data": {"values": []}, "mark": "text", "view": {"fill": "#1F3A64", "stroke": null}}
]
}
